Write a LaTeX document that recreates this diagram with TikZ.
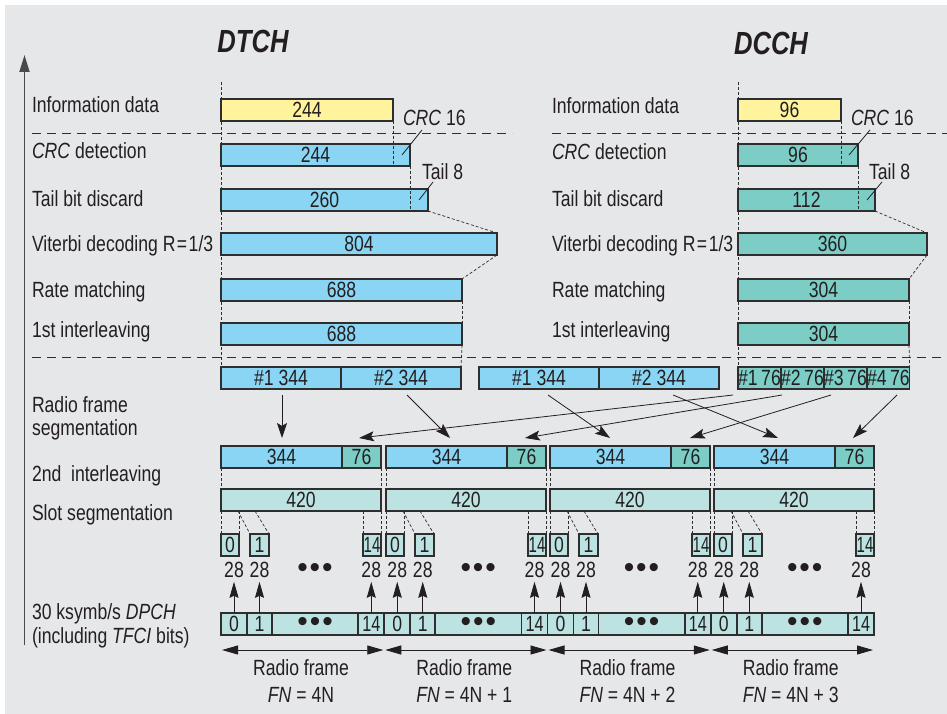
\documentclass[tikz,border=0pt]{standalone}
\usepackage{fontspec}
\setmainfont{Liberation Sans}[FakeStretch=0.80]
\newfontfamily\dotfont{Liberation Sans}
\usetikzlibrary{arrows.meta,calc}
\definecolor{bg}{HTML}{E6E7E9}
\definecolor{cyel}{HTML}{FFF39E}
\definecolor{cblu}{HTML}{8AD5F3}
\definecolor{ctea}{HTML}{7BCDC6}
\definecolor{cpal}{HTML}{BCE3E2}
\definecolor{ink}{HTML}{231F20}
\definecolor{edge}{HTML}{2E2E2E}
\definecolor{axc}{HTML}{4A4A4A}
\newcommand\tdots{{\dotfont\fontsize{30}{30}\selectfont •\hspace{2pt}•\hspace{2pt}•}}
\begin{document}
\begin{tikzpicture}[x=1pt,y=-1pt,font=\fontsize{22}{24}\selectfont,text=ink,
 bx/.style={draw=edge,line width=1.6pt,anchor=north west,minimum height=22pt,inner sep=0pt,outer sep=0pt},
 lab/.style={anchor=base west,inner sep=0pt,outer sep=0pt},
 nl/.style={inner sep=0pt,outer sep=0pt},
 vd/.style={draw=edge,line width=0.7pt,dash pattern=on 3pt off 2pt},
 hd/.style={draw=edge,line width=0.8pt,dash pattern=on 9pt off 6pt},
 ld/.style={draw=ink,line width=0.8pt},
 marr/.style={draw=ink,line width=0.8pt,-{Stealth[length=15pt,width=10pt,inset=3pt]}},
 uarr/.style={draw=ink,line width=0.8pt,-{Stealth[length=16pt,width=9pt,inset=2pt]}},
 farr/.style={draw=ink,line width=0.9pt,{Triangle[length=16pt,width=9pt]}-{Triangle[length=16pt,width=9pt]}},
 ttl/.style={font=\fontsize{32}{32}\selectfont\bfseries\itshape,inner sep=0pt}]
\useasboundingbox (0,0) rectangle (947,714);
\fill[white] (0,0) rectangle (947,714);
\fill[bg] (5,5) rectangle (947,714);

% titles
\node[ttl] (tDT) at (253,41) {DTCH};
\node[ttl] (tDC) at (771,43) {DCCH};

% axis
\coordinate (ax0) at (24.5,645);
\coordinate (ax1) at (24.5,55);
\draw[draw=axc,line width=1.8pt,-{Triangle[length=17pt,width=10pt]}] (ax0) -- (ax1);

% horizontal dashed separators
\coordinate (h1a) at (32,133); \coordinate (h1b) at (512,133);
\coordinate (h2a) at (552,133); \coordinate (h2b) at (947,133);
\coordinate (h3a) at (32,357); \coordinate (h3b) at (947,357);
\draw[hd] (h1a) -- (h1b);
\draw[hd] (h2a) -- (h2b);
\draw[hd] (h3a) -- (h3b);

% left labels DTCH
\node[lab] (la1) at (32,113) {Information data};
\node[lab] (la2) at (32,159) {\textit{CRC} detection};
\node[lab] (la3) at (32,207) {Tail bit discard};
\node[lab] (la4) at (32,251) {Viterbi decoding R\kern1.5pt=\kern1.5pt1/3};
\node[lab] (la5) at (32,297) {Rate matching};
\node[lab] (la6) at (32,337) {1st interleaving};
% left labels DCCH
\node[lab] (lb1) at (552,114) {Information data};
\node[lab] (lb2) at (552,160) {\textit{CRC} detection};
\node[lab] (lb3) at (552,207) {Tail bit discard};
\node[lab] (lb4) at (552,251) {Viterbi decoding R\kern1.5pt=\kern1.5pt1/3};
\node[lab] (lb5) at (552,297) {Rate matching};
\node[lab] (lb6) at (552,337) {1st interleaving};
% lower labels
\node[lab] (lc1) at (32,412) {Radio frame};
\node[lab] (lc2) at (32,435) {segmentation};
\node[lab] (lc3) at (32,481) {2nd\ \ interleaving};
\node[lab] (lc4) at (32,520) {Slot segmentation};
\node[lab] (lc5) at (32,619) {30 ksymb/s \textit{DPCH}};
\node[lab] (lc6) at (32,643) {(including \textit{TFCI} bits)};

% DTCH boxes
\node[bx,fill=cyel,minimum width=172pt] (i1) at (221,99) {244};
\node[bx,fill=cblu,minimum width=189pt] (c1) at (221,144) {244};
\node[bx,fill=cblu,minimum width=207pt] (t1) at (221,189) {260};
\node[bx,fill=cblu,minimum width=276pt] (v1) at (221,233) {804};
\node[bx,fill=cblu,minimum width=241pt] (r1) at (221,279) {688};
\node[bx,fill=cblu,minimum width=241pt] (l1) at (221,323) {688};
% DCCH boxes
\node[bx,fill=cyel,minimum width=103pt] (i2) at (738,99) {96};
\node[bx,fill=ctea,minimum width=120pt] (c2) at (738,144) {96};
\node[bx,fill=ctea,minimum width=137pt] (t2) at (738,189) {112};
\node[bx,fill=ctea,minimum width=189pt] (v2) at (738,233) {360};
\node[bx,fill=ctea,minimum width=171pt] (r2) at (738,279) {304};
\node[bx,fill=ctea,minimum width=171pt] (l2) at (738,323) {304};

% radio frame segments
\node[bx,fill=cblu,minimum width=120pt] (sA1) at (221,367) {\#1 344};
\node[bx,fill=cblu,minimum width=120pt] (sA2) at (341,367) {\#2 344};
\node[bx,fill=cblu,minimum width=120pt] (sB1) at (479,367) {\#1 344};
\node[bx,fill=cblu,minimum width=120pt] (sB2) at (599,367) {\#2 344};
\node[bx,fill=ctea,minimum width=43pt] (sC1) at (738,367) {\#1\kern3.5pt76};
\node[bx,fill=ctea,minimum width=43pt] (sC2) at (781,367) {\#2\kern3.5pt76};
\node[bx,fill=ctea,minimum width=43pt] (sC3) at (824,367) {\#3\kern3.5pt76};
\node[bx,fill=ctea,minimum width=42pt] (sC4) at (867,367) {\#4\kern3.5pt76};

% dashed guides
\coordinate (d1) at (221,82); \coordinate (d2) at (738,82);
\draw[vd] (d1) -- (sA1.north west);
\draw[vd] (d2) -- (sC1.north west);
\draw[vd] (i1.south east) -- (i1.south east |- c1.south);
\draw[vd] (c1.south east) -- (c1.south east |- t1.south);
\draw[vd] (i2.south east) -- (i2.south east |- c2.south);
\draw[vd] (c2.south east) -- (c2.south east |- t2.south);
\draw[vd] (t1.south east) -- (v1.north east);
\draw[vd] (v1.south east) -- (r1.north east);
\draw[vd] (r1.south east) -- (l1.north east);
\draw[vd] (l1.south east) -- (sA2.north east);
\draw[vd] (t2.south east) -- (v2.north east);
\draw[vd] (v2.south east) -- (r2.north east);
\draw[vd] (r2.south east) -- (l2.north east);
\draw[vd] (l2.south east) -- (sC4.north east);

% CRC / tail annotations
\node[lab] (k1) at (403,126) {\textit{CRC} 16};
\node[lab] (k2) at (422,180) {Tail 8};
\node[lab] (k3) at (851,126) {\textit{CRC} 16};
\node[lab] (k4) at (869,180) {Tail 8};
\coordinate (k1a) at (422,130); \coordinate (k1b) at (402,155);
\coordinate (k2a) at (433,182); \coordinate (k2b) at (419,200);
\coordinate (k3a) at (870,130); \coordinate (k3b) at (849,155);
\coordinate (k4a) at (882,182); \coordinate (k4b) at (867,200);
\draw[ld] (k1a) -- (k1b);
\draw[ld] (k2a) -- (k2b);
\draw[ld] (k3a) -- (k3b);
\draw[ld] (k4a) -- (k4b);

% frames
\foreach \i/\xo/\X/\fn in {1/221/221/4N, 2/386/384.25/4N + 1, 3/550/547.5/4N + 2, 4/714/710.75/4N + 3}{
 \node[bx,fill=cblu,minimum width=121pt] (fa\i) at (\xo,446) {344};
 \node[bx,fill=ctea,minimum width=39pt] (fb\i) at (\xo+121,446) {76};
 \node[bx,fill=cpal,minimum width=160pt] (fc\i) at (\xo,489) {420};
 \draw[vd] (fa\i.south west) -- (fc\i.north west);
 \draw[vd] (fb\i.south east) -- (fc\i.north east);
 \node[bx,fill=cpal,minimum width=18pt] (ua\i) at (\xo,534) {0};
 \node[bx,fill=cpal,minimum width=19pt] (ub\i) at (\xo+29,534) {1};
 \node[bx,fill=cpal,minimum width=18pt] (uc\i) at (\xo+142,534) {\scalebox{0.85}[1]{14}};
 \coordinate (qa\i) at (\xo+17,511);
 \coordinate (qb\i) at (\xo+34,511);
 \draw[vd] (fc\i.south west) -- (ua\i.north west);
 \draw[vd] (ua\i.north east |- fc\i.south) -- (ua\i.north east);
 \draw[vd] (qa\i) -- (ub\i.north west);
 \draw[vd] (qb\i) -- (ub\i.north east);
 \draw[vd] (uc\i.north west |- fc\i.south) -- (uc\i.north west);
 \draw[vd] (fc\i.south east) -- (uc\i.north east);
 \node[bx,fill=cpal,minimum width=26pt] (pa\i) at (\X,613) {0};
 \node[bx,fill=cpal,minimum width=25pt] (pb\i) at (\X+26,613) {1};
 \node[bx,fill=cpal,minimum width=86.25pt] (pd\i) at (\X+51,613) {\tdots};
 \node[bx,fill=cpal,minimum width=26pt] (pc\i) at (\X+137.25,613) {\scalebox{0.92}[1]{14}};
 \node[nl] (na\i) at (\X+13,570) {28};
 \node[nl] (nb\i) at (\X+38.5,570) {28};
 \node[nl] (nd\i) at (\X+94,570) {\tdots};
 \node[nl] (nc\i) at (\X+150.25,570) {28};
 \draw[uarr,shorten >=4pt] (pa\i.north) -- (na\i.south);
 \draw[uarr,shorten >=4pt] (pb\i.north) -- (nb\i.south);
 \draw[uarr,shorten >=4pt] (pc\i.north) -- (nc\i.south);
 \coordinate (fl\i) at (\X+1,650);
 \coordinate (fr\i) at (\X+162.25,650);
 \draw[farr] (fl\i) -- (fr\i);
 \node[nl,anchor=base] (rf\i) at (\X+80,675) {Radio frame};
 \node[nl,anchor=base] (fn\i) at (\X+80,702) {\textit{FN} = \fn};
}

% segment -> frame arrows
\coordinate (m1s) at (282,395); \coordinate (m1e) at (282,438);
\coordinate (m2s) at (407,395); \coordinate (m2e) at (450,438);
\coordinate (m3s) at (548,395); \coordinate (m3e) at (610,438);
\coordinate (m4s) at (673,395); \coordinate (m4e) at (778,438);
\coordinate (m5s) at (733,395); \coordinate (m5e) at (359,438);
\coordinate (m6s) at (782,395); \coordinate (m6e) at (525,438);
\coordinate (m7s) at (831,395); \coordinate (m7e) at (690,438);
\coordinate (m8s) at (897,395); \coordinate (m8e) at (853,438);
\foreach \k in {1,...,8}{ \draw[marr] (m\k s) -- (m\k e); }
\end{tikzpicture}
\end{document}
